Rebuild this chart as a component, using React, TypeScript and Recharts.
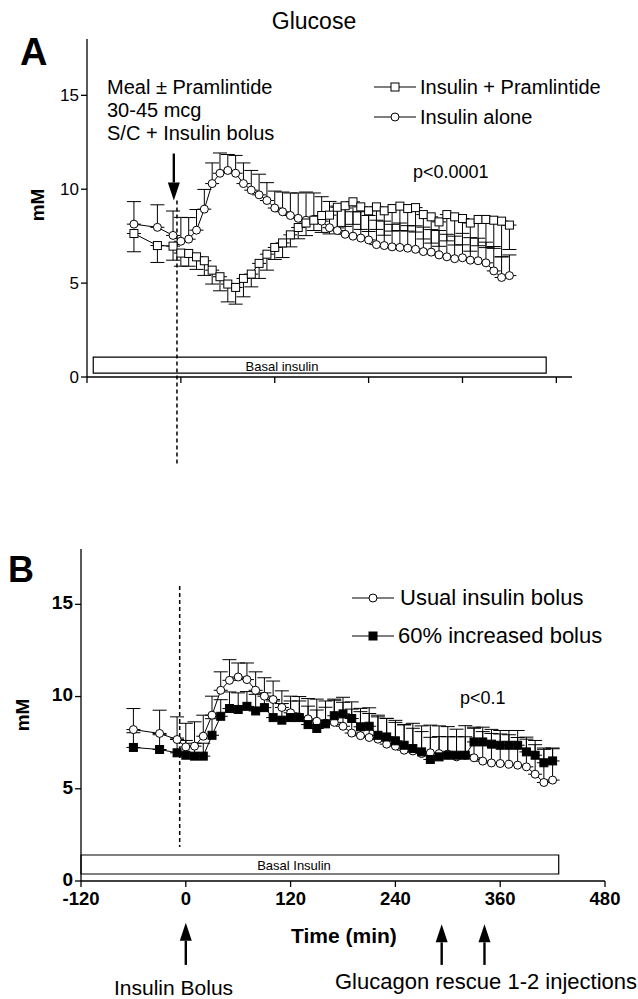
import React from "react";
import { LineChart, Line, XAxis, YAxis, ErrorBar, ReferenceLine, ReferenceArea } from "recharts";

const times = [-60, -30, -10, 0, 10, 20, 30, 40, 50, 60, 70, 80, 90, 100, 110, 120, 130, 140, 150, 160, 170, 180, 190, 200, 210, 220, 230, 240, 250, 260, 270, 280, 290, 300, 310, 320, 330, 340, 350, 360, 370, 380, 390, 400, 410, 420];

// panel A
const aloneA = [8.14, 7.97, 7.54, 7.23, 7.34, 7.82, 8.94, 10.3, 10.85, 11.0, 10.85, 10.3, 9.95, 9.7, 9.4, 9.0, 8.8, 8.6, 8.45, 8.35, 8.4, 8.3, 7.95, 7.8, 7.6, 7.5, 7.4, 7.3, 7.05, 7.0, 6.93, 6.9, 6.86, 6.8, 6.68, 6.65, 6.5, 6.4, 6.3, 6.35, 6.22, 6.19, 6.08, 5.65, 5.3, 5.4];
const aloneErrA = [1.2, 1.2, 1.3, 1.27, 1.15, 1.1, 1.05, 1.1, 1.08, 0.85, 0.95, 1.1, 1.05, 1.1, 0.95, 0.9, 1.05, 1.2, 1.35, 1.5, 1.4, 1.3, 1.4, 1.3, 1.4, 1.3, 1.4, 1.3, 1.3, 1.3, 1.2, 1.3, 1.2, 1.25, 1.3, 1.2, 1.3, 1.2, 1.2, 1.3, 1.2, 1.2, 1.1, 1.3, 1.1, 1.1];
const pramA = [7.64, 7.0, 6.97, 6.6, 6.58, 6.4, 6.19, 5.69, 5.34, 4.95, 4.77, 5.25, 5.48, 6.05, 6.54, 6.9, 7.14, 7.57, 7.96, 8.2, 8.35, 8.6, 8.62, 9.04, 9.12, 9.33, 9.06, 8.85, 9.06, 8.85, 8.97, 9.1, 8.97, 9.02, 8.65, 8.53, 8.26, 8.65, 8.53, 8.44, 8.2, 8.39, 8.39, 8.35, 8.3, 8.09];
const pramErrA = [0.97, 0.9, 0.75, 0.7, 0.68, 0.67, 0.78, 0.74, 0.75, 0.95, 0.89, 0.98, 0.68, 0.8, 0.85, 0.64, 0.78, 0.64, 0.6, 0.67, 0.55, 0.9, 1.0, 1.1, 1.1, 1.2, 1.2, 1.1, 1.2, 1.3, 1.2, 1.3, 1.2, 1.3, 1.3, 1.4, 1.3, 1.4, 1.5, 1.4, 1.5, 1.4, 1.5, 1.5, 1.9, 1.3];

// panel B
const usualB = [8.21, 8.0, 7.67, 7.27, 7.31, 7.85, 8.99, 10.34, 10.88, 11.06, 10.92, 10.34, 10.02, 9.84, 9.41, 9.12, 8.9, 8.79, 8.66, 8.56, 8.6, 8.39, 8.02, 7.88, 7.78, 7.69, 7.42, 7.31, 7.09, 7.05, 6.91, 6.95, 6.91, 6.87, 6.73, 6.82, 6.68, 6.5, 6.4, 6.37, 6.33, 6.28, 6.19, 5.79, 5.34, 5.47];
const usualErrB = [1.14, 1.26, 1.23, 1.28, 1.32, 1.14, 1.03, 1.0, 1.12, 0.76, 0.9, 1.0, 1.0, 1.0, 0.9, 0.9, 1.1, 1.1, 1.2, 1.2, 1.2, 1.3, 1.3, 1.3, 1.3, 1.3, 1.4, 1.4, 1.4, 1.5, 1.5, 1.5, 1.5, 1.5, 1.5, 1.6, 1.6, 1.6, 1.6, 1.6, 1.6, 1.5, 1.5, 1.6, 1.8, 1.7];
const increasedB = [7.24, 7.13, 6.95, 6.82, 6.77, 6.77, 7.9, 8.93, 9.35, 9.3, 9.47, 9.22, 9.4, 8.86, 8.72, 8.86, 8.86, 8.48, 8.27, 8.52, 8.96, 9.06, 8.81, 8.36, 8.39, 7.9, 7.81, 7.6, 7.36, 7.18, 7.0, 6.59, 6.73, 6.82, 6.82, 6.82, 7.54, 7.54, 7.42, 7.36, 7.36, 7.36, 7.0, 6.82, 6.41, 6.51];
const increasedErrB = [0.8, 0.8, 0.8, 0.8, 0.7, 0.7, 0.9, 0.9, 0.9, 0.9, 0.8, 0.9, 0.8, 0.9, 0.9, 0.9, 0.9, 1.0, 1.0, 0.9, 0.9, 0.9, 0.9, 1.0, 1.0, 1.0, 1.0, 1.0, 1.1, 1.1, 1.1, 1.2, 1.1, 1.0, 1.0, 1.0, 0.8, 0.8, 0.8, 0.8, 0.8, 0.8, 0.8, 0.8, 0.8, 0.7];

const xTicks = [-120, 0, 120, 240, 360, 480];
const yTicks = [0, 5, 10, 15];

const dataA = times.map((t, i) => ({
  t,
  alone: aloneA[i],
  aloneErr: [0, aloneErrA[i]],
  pram: pramA[i],
  pramErr: [pramErrA[i], 0],
}));

const dataB = times.map((t, i) => ({
  t,
  usual: usualB[i],
  usualErr: [0, usualErrB[i]],
  incr: increasedB[i],
  incrErr: [0, increasedErrB[i]],
}));

const FONT = "'Liberation Sans', Arial, Helvetica, sans-serif";

const squareDot = (fill: string) => (props: any) => {
  const { cx, cy, index } = props;
  if (cx == null || cy == null) return <g key={index} />;
  return <rect key={index} x={cx - 4} y={cy - 4} width={8} height={8} fill={fill} stroke="#000" strokeWidth={1} />;
};

const arrow = (props: any) => {
  const { x1, y1, x2, y2 } = props;
  const dir = Math.sign(y2 - y1);
  const baseY = y2 - dir * 18;
  return (
    <g>
      <line x1={x1} y1={y1} x2={x2} y2={baseY} stroke="#000" strokeWidth={2.4} />
      <polygon points={`${x2},${y2} ${x2 - 6},${baseY} ${x2 + 6},${baseY}`} fill="#000" />
    </g>
  );
};

function Txt({ x, y, size, bold, children, anchor }: any) {
  return (
    <div
      style={{
        position: "absolute",
        left: x,
        top: y,
        transform: anchor === "middle" ? "translate(-50%, -50%)" : "translateY(-50%)",
        fontFamily: FONT,
        fontSize: size,
        fontWeight: bold ? 700 : 400,
        lineHeight: 1,
        whiteSpace: "nowrap",
        color: "#000",
      }}
    >
      {children}
    </div>
  );
}

function LegendKey({ x, y, square, filled }: any) {
  return (
    <svg style={{ position: "absolute", left: x, top: y - 6 }} width={42} height={12}>
      <line x1={0} y1={6} x2={42} y2={6} stroke="#000" strokeWidth={1.2} />
      {square ? (
        <rect x={17} y={2} width={8} height={8} fill={filled ? "#000" : "#fff"} stroke="#000" strokeWidth={1} />
      ) : (
        <circle cx={21} cy={6} r={4} fill="#fff" stroke="#000" strokeWidth={1} />
      )}
    </svg>
  );
}

export default function App() {
  return (
    <div style={{ position: "relative", width: 638, height: 999, background: "#fff", overflow: "hidden" }}>
      <style>{"body{margin:0;background:#fff}"}</style>

      <div style={{ position: "absolute", left: 0, top: 0 }}>
        <LineChart width={638} height={480} data={dataA} margin={{ top: 39, right: 66, bottom: 83, left: 47 }}>
          <XAxis
            dataKey="t"
            type="number"
            domain={[-120, 500]}
            ticks={xTicks}
            tickFormatter={() => ""}
            height={20}
            tickSize={6}
            axisLine={{ stroke: "#000", strokeWidth: 1.3 }}
            tickLine={{ stroke: "#000", strokeWidth: 1.3 }}
          />
          <YAxis
            type="number"
            domain={[0, 18]}
            ticks={yTicks}
            width={40}
            tickSize={6}
            axisLine={{ stroke: "#000", strokeWidth: 1.3 }}
            tickLine={{ stroke: "#000", strokeWidth: 1.3 }}
            tick={{ fill: "#000", fontSize: 17, fontFamily: FONT }}
          />
          <ReferenceArea x1={-112} x2={467} y1={0.21} y2={1.06} fill="#fff" fillOpacity={1} stroke="#000" strokeWidth={1.2} ifOverflow="visible" />
          <ReferenceLine segment={[{ x: -5, y: 9.4 }, { x: -5, y: -4.7 }]} stroke="#000" strokeWidth={1.5} strokeDasharray="4 3" ifOverflow="visible" />
          <ReferenceLine segment={[{ x: -9, y: 11.9 }, { x: -9, y: 9.4 }]} ifOverflow="visible" shape={arrow} />
          <Line
            dataKey="alone"
            type="linear"
            stroke="#000"
            strokeWidth={1}
            dot={{ r: 4, fill: "#fff", stroke: "#000", strokeWidth: 1 }}
            isAnimationActive={false}
          >
            <ErrorBar dataKey="aloneErr" direction="y" width={7} stroke="#000" strokeWidth={1} />
          </Line>
          <Line
            dataKey="pram"
            type="linear"
            stroke="#000"
            strokeWidth={1}
            dot={squareDot("#fff")}
            isAnimationActive={false}
          >
            <ErrorBar dataKey="pramErr" direction="y" width={7} stroke="#000" strokeWidth={1} />
          </Line>
        </LineChart>
      </div>

      <div style={{ position: "absolute", left: 0, top: 500 }}>
        <LineChart width={638} height={499} data={dataB} margin={{ top: 49, right: 33, bottom: 88, left: 41 }}>
          <XAxis
            dataKey="t"
            type="number"
            domain={[-120, 480]}
            ticks={xTicks}
            height={30}
            tickSize={6}
            axisLine={{ stroke: "#000", strokeWidth: 1.3 }}
            tickLine={{ stroke: "#000", strokeWidth: 1.3 }}
            tick={{ fill: "#000", fontSize: 18.5, fontWeight: 700, fontFamily: FONT, dy: 3 }}
          />
          <YAxis
            type="number"
            domain={[0, 18]}
            ticks={yTicks}
            width={40}
            tickSize={6}
            axisLine={{ stroke: "#000", strokeWidth: 1.3 }}
            tickLine={{ stroke: "#000", strokeWidth: 1.3 }}
            tick={{ fill: "#000", fontSize: 19, fontWeight: 700, fontFamily: FONT, dy: -2 }}
          />
          <ReferenceArea x1={-120} x2={427} y1={0.38} y2={1.41} fill="#fff" fillOpacity={1} stroke="#000" strokeWidth={1.2} ifOverflow="visible" />
          <ReferenceLine segment={[{ x: -7, y: 16.0 }, { x: -7, y: 1.84 }]} stroke="#000" strokeWidth={1.5} strokeDasharray="4 3" ifOverflow="visible" />
          <ReferenceLine segment={[{ x: 0, y: -4.55 }, { x: 0, y: -2.27 }]} ifOverflow="visible" shape={arrow} />
          <ReferenceLine segment={[{ x: 293, y: -4.55 }, { x: 293, y: -2.35 }]} ifOverflow="visible" shape={arrow} />
          <ReferenceLine segment={[{ x: 342, y: -4.55 }, { x: 342, y: -2.35 }]} ifOverflow="visible" shape={arrow} />
          <Line
            dataKey="usual"
            type="linear"
            stroke="#000"
            strokeWidth={1}
            dot={{ r: 4, fill: "#fff", stroke: "#000", strokeWidth: 1 }}
            isAnimationActive={false}
          >
            <ErrorBar dataKey="usualErr" direction="y" width={7} stroke="#000" strokeWidth={1} />
          </Line>
          <Line
            dataKey="incr"
            type="linear"
            stroke="#000"
            strokeWidth={1}
            dot={squareDot("#000")}
            isAnimationActive={false}
          >
            <ErrorBar dataKey="incrErr" direction="y" width={7} stroke="#000" strokeWidth={1} />
          </Line>
        </LineChart>
      </div>

      <Txt x={314} y={21} size={23} anchor="middle">Glucose</Txt>
      <Txt x={20} y={52} size={38} bold>A</Txt>
      <Txt x={8} y={570} size={36} bold>B</Txt>

      <div style={{ position: "absolute", left: 37, top: 205, transform: "translate(-50%, -50%) rotate(-90deg)", fontFamily: FONT, fontWeight: 700, fontSize: 19, lineHeight: 1 }}>mM</div>
      <div style={{ position: "absolute", left: 22, top: 715, transform: "translate(-50%, -50%) rotate(-90deg)", fontFamily: FONT, fontWeight: 700, fontSize: 19, lineHeight: 1 }}>mM</div>

      <Txt x={107} y={87} size={20}>Meal ± Pramlintide</Txt>
      <Txt x={107} y={110} size={20}>30-45 mcg</Txt>
      <Txt x={107} y={133} size={20}>S/C + Insulin bolus</Txt>

      <LegendKey x={374} y={87} square />
      <Txt x={420} y={87} size={20}>Insulin + Pramlintide</Txt>
      <LegendKey x={374} y={117} />
      <Txt x={420} y={117} size={20}>Insulin alone</Txt>
      <Txt x={413} y={172} size={18}>p&lt;0.0001</Txt>
      <Txt x={282} y={366} size={13} anchor="middle">Basal insulin</Txt>

      <LegendKey x={352} y={598} />
      <Txt x={400} y={598} size={22}>Usual insulin bolus</Txt>
      <LegendKey x={352} y={636} square filled />
      <Txt x={398} y={636} size={22}>60% increased bolus</Txt>
      <Txt x={460} y={698} size={18}>p&lt;0.1</Txt>
      <Txt x={294} y={865} size={13} anchor="middle">Basal Insulin</Txt>

      <Txt x={291} y={935} size={21} bold>Time (min)</Txt>
      <Txt x={114} y={987} size={21}>Insulin Bolus</Txt>
      <Txt x={335} y={982} size={22}>Glucagon rescue 1-2 injections</Txt>
    </div>
  );
}
